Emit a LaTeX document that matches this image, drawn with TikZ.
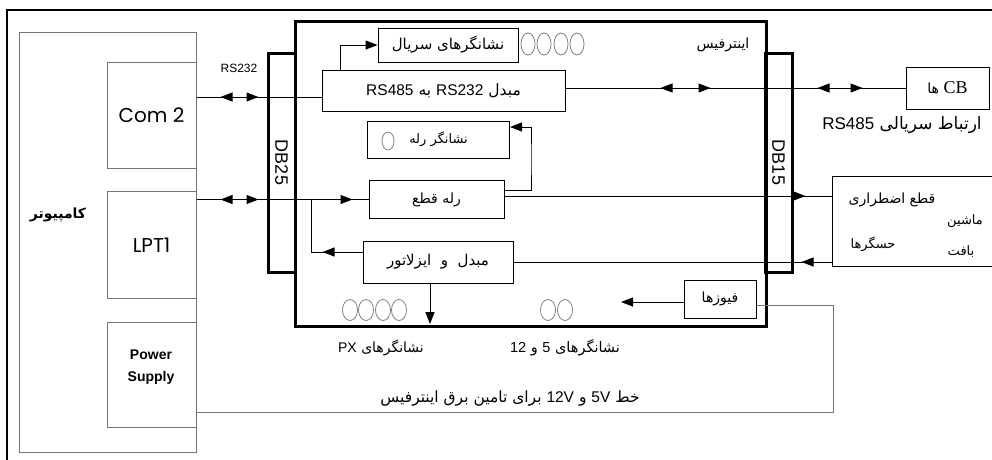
\documentclass[tikz,border=0pt]{standalone}
\usepackage{fontspec}
\setmainfont{Liberation Sans}
\newfontfamily\fa[Script=Arabic]{DejaVu Sans}
\newfontfamily\gothic{Poppins}
\newfontfamily\serifcb{Liberation Serif}
\TeXXeTstate=1
\usetikzlibrary{arrows.meta,decorations.markings}
\newcommand{\fsz}[1]{\fontsize{#1}{#1}\selectfont}
\newcommand{\rtl}[1]{{\fa\beginR #1\endR}}
\newcommand{\ltr}[1]{\beginL{\rmfamily #1}\endL}
\begin{document}
\begin{tikzpicture}[x=1pt,y=-1pt,
    >={Triangle[length=12pt,width=9pt]},
    conn/.style={line width=1pt},
    box/.style={draw,line width=1pt,inner sep=2pt},
    pcbox/.style={draw=black!55,line width=1pt},
    thickbox/.style={draw,line width=3pt},
    led/.style={draw=black!50,line width=0.8pt},
    dbl/.style 2 args={postaction={decorate,decoration={markings,
        mark=at position #1 with {\arrowreversed{>}},
        mark=at position #2 with {\arrow{>}}}}},
    mid/.style={postaction={decorate,decoration={markings,
        mark=at position #1 with {\arrow{>}}}}}]
    \useasboundingbox (0,0) rectangle (992,459);
    \clip (0,0) rectangle (992,459);

    % Marco exterior
    \draw[line width=2pt] (7,470) -- (7,10) -- (1000,10);

    % Computadora
    \node[pcbox,minimum width=177pt,minimum height=420pt] (pc) at (107.5,242) {};
    \node[font=\fsz{14}\bfseries] (pclbl) at (58,215) {\rtl{کامپیوتر}};
    \node[pcbox,minimum width=89pt,minimum height=106pt,font=\gothic\fsz{20}] (com2) at (151.5,115) {Com 2};
    \node[pcbox,minimum width=89pt,minimum height=107pt,font=\gothic\fsz{20}] (lpt) at (151.5,245) {LPT1};
    \node[pcbox,minimum width=89pt,minimum height=105pt] (psu) at (151.5,374.5) {};
    \node[font=\bfseries\fontsize{14}{22}\selectfont,align=center] (psulbl) at (151,367) {Power\\Supply};

    % Interfaz y conectores
    \node[thickbox,minimum width=471pt,minimum height=305pt] (iface) at (530.5,173.5) {};
    \node[font=\fsz{14}] (iflbl) at (723,45) {\rtl{اینترفیس}};
    \node[thickbox,rotate=-90,minimum width=219pt,minimum height=27pt,font=\fsz{18}] (db25) at (281.5,162.5) {DB25};
    \node[thickbox,rotate=-90,minimum width=219pt,minimum height=27pt,font=\fsz{18}] (db15) at (778.5,162.5) {DB15};

    % Bloques internos
    \node[box,minimum width=140pt,minimum height=34pt,font=\fsz{15}] (serial) at (448,45) {\rtl{نشانگرهای سریال}};
    \node[box,minimum width=243pt,minimum height=41pt,font=\fsz{15.5}] (conv) at (443.5,90.5) {\rtl{مبدل \ltr{RS232} به \ltr{RS485}}};
    \node[box,minimum width=142pt,minimum height=37pt,font=\fsz{13}] (relind) at (438.5,139.5) {\rtl{نشانگر رله}};
    \node[box,minimum width=135pt,minimum height=38pt,font=\fsz{14}] (relay) at (436.5,199.5) {\rtl{رله قطع}};
    \node[box,minimum width=150pt,minimum height=42pt,font=\fsz{15}] (iso) at (438,262) {\rtl{مبدل \ و \ ایزلاتور}};
    \node[box,minimum width=72pt,minimum height=38pt,font=\fsz{14}] (fuse) at (720,299) {\rtl{فیوزها}};

    % Indicadores
    \foreach \x in {528,544,561,577}
        \draw[led] (\x,44) ellipse (7pt and 11pt);
    \draw[led] (388,141) ellipse (6pt and 9pt);
    \foreach \x in {350,366,383,399}
        \draw[led] (\x,310) ellipse (7.5pt and 10.5pt);
    \foreach \x in {548,565}
        \draw[led] (\x,310) ellipse (7.5pt and 10.5pt);
    \node[font=\fsz{14}] (pxlbl) at (381,348) {\rtl{نشانگرهای \ltr{PX}}};
    \node[font=\fsz{14.5}] (vlbl) at (565,348) {\rtl{نشانگرهای \ltr{5} و \ltr{12}}};

    % Dispositivos externos
    \node[box,minimum width=83pt,minimum height=42pt,font=\fsz{14}] (cb) at (947.5,88) {\rtl{\ltr{\serifcb\fsz{18}CB} ها}};
    \node[font=\fsz{17}] (cblbl) at (902,125) {\rtl{ارتباط سریالی \ltr{RS485}}};
    \node[box,minimum width=178pt,minimum height=90pt] (machine) at (921,221) {};
    \node[font=\fsz{14}] (estop) at (892,200) {\rtl{قطع اضطراری}};
    \node[font=\fsz{13}] (mach) at (965,221) {\rtl{ماشین}};
    \node[font=\fsz{13}] (sens) at (873,244) {\rtl{حسگرها}};
    \node[font=\fsz{13}] (weave) at (961,252) {\rtl{بافت}};

    % Coordenadas auxiliares
    \coordinate (rsline) at (0,97);
    \coordinate (fbk) at (531,160);
    \coordinate (lptjoin) at (311,199.5);
    \coordinate (pxtip) at (430,324);
    \coordinate (fusetip) at (621,302);
    \coordinate (pwrturn) at (833,412);

    % Conexiones
    \node[font=\fsz{12}] (rslbl) at (239,68) {RS232};
    \draw[conn,dbl={24pt}{62pt}] (com2.east |- rsline) -- (conv.west |- rsline);
    \draw[conn,->] ([xshift=-103.5pt]conv.north) |- (serial.west);
    \draw[conn,dbl={95pt}{145pt},dbl={252pt}{297pt}] (conv.east |- cb.west) -- (cb.west);
    \draw[conn,dbl={24pt}{62pt},mid=156pt] (lpt.east |- relay.west) -- (relay.west);
    \draw[conn,->] ([yshift=9.5pt]relay.east) -| (fbk) |- ([yshift=12.5pt]relind.east);
    \draw[conn,mid=301pt] ([yshift=3.5pt]relay.east) -- ([yshift=3.5pt]relay.east -| machine.west);
    \draw[conn,mid=30pt] (machine.west |- iso.east) -- (iso.east);
    \draw[conn,mid=40pt] ([yshift=10pt]iso.west) -| (lptjoin);
    \draw[conn,->] (iso.south -| pxtip) -- (pxtip);
    \draw[conn,->] (fuse.west |- fusetip) -- (fusetip);
    \draw[conn,draw=black!55] ([yshift=-6pt]fuse.east) -| (pwrturn) -- (psu.east |- pwrturn);
    \node[font=\fsz{15.5}] (pwrlbl) at (510,398) {\rtl{خط \ltr{5V} و \ltr{12V} برای تامین برق اینترفیس}};
\end{tikzpicture}
\end{document}
